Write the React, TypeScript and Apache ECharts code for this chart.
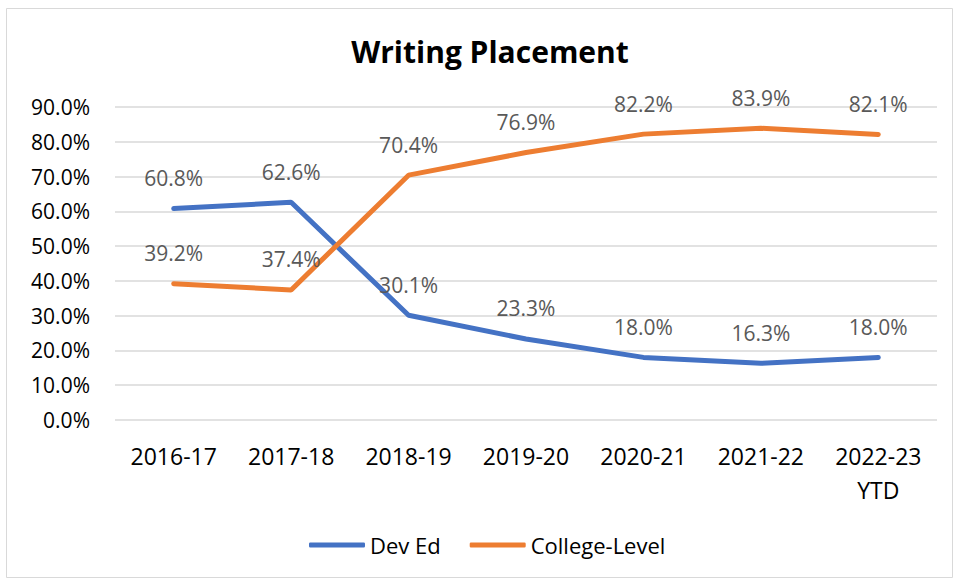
import React, { useEffect, useRef } from "react";
import * as echarts from "echarts";

const categories = ["2016-17", "2017-18", "2018-19", "2019-20", "2020-21", "2021-22", "2022-23\nYTD"];
const devEd = [60.8, 62.6, 30.1, 23.3, 18.0, 16.3, 18.0];
const collegeLevel = [39.2, 37.4, 70.4, 76.9, 82.2, 83.9, 82.1];

const FONT = "'Open Sans', 'Liberation Sans', sans-serif";

export default function App() {
  const ref = useRef<HTMLDivElement>(null);
  useEffect(() => {
    const chart = echarts.init(ref.current!, null, { renderer: "svg" });
    const label = {
      show: true,
      position: "top" as const,
      distance: 20,
      color: "#595959",
      fontSize: 21,
      fontFamily: FONT,
      formatter: (p: any) => Number(p.value).toFixed(1) + "%",
    };
    chart.setOption({
      animation: false,
      backgroundColor: "#ffffff",
      title: {
        text: "Writing Placement",
        left: 485,
        textAlign: "center",
        top: 31,
        textStyle: { fontSize: 30, fontWeight: "bold", color: "#000", fontFamily: FONT },
      },
      graphic: [
        {
          type: "rect",
          shape: { x: 6.5, y: 8.5, width: 946, height: 569 },
          style: { fill: "none", stroke: "#d9d9d9", lineWidth: 1 },
          silent: true,
        },
      ],
      legend: {
        bottom: 18,
        left: 304,
        itemWidth: 56,
        itemHeight: 5,
        itemGap: 29,
        icon: "roundRect",
        textStyle: { fontSize: 22, color: "#000", fontFamily: FONT },
        data: ["Dev Ed", "College-Level"],
      },
      grid: { left: 115, right: 17, top: 107, bottom: 159, containLabel: false },
      xAxis: {
        type: "category",
        data: categories,
        boundaryGap: true,
        axisLine: { show: false },
        axisTick: { show: false },
        axisLabel: { fontSize: 23, color: "#000", fontFamily: FONT, margin: 19, lineHeight: 34 },
      },
      yAxis: {
        type: "value",
        min: 0,
        max: 90,
        interval: 10,
        axisLine: { show: false },
        axisTick: { show: false },
        splitLine: { lineStyle: { color: "#d9d9d9", width: 1.5 } },
        axisLabel: {
          fontSize: 21,
          color: "#000",
          fontFamily: FONT,
          margin: 25,
          formatter: (v: number) => v.toFixed(1) + "%",
        },
      },
      series: [
        {
          name: "Dev Ed",
          type: "line",
          data: devEd,
          symbol: "circle",
          symbolSize: 0,
          showSymbol: true,
          lineStyle: { color: "#4472c4", width: 5, cap: "round" },
          itemStyle: { color: "#4472c4" },
          label,
        },
        {
          name: "College-Level",
          type: "line",
          data: collegeLevel,
          symbol: "circle",
          symbolSize: 0,
          showSymbol: true,
          lineStyle: { color: "#ed7d31", width: 5, cap: "round" },
          itemStyle: { color: "#ed7d31" },
          label,
        },
      ],
    });
    return () => chart.dispose();
  }, []);
  return (
    <div
      ref={ref}
      style={{ position: "fixed", left: 0, top: 0, width: 954, height: 579, background: "#fff" }}
    />
  );
}
